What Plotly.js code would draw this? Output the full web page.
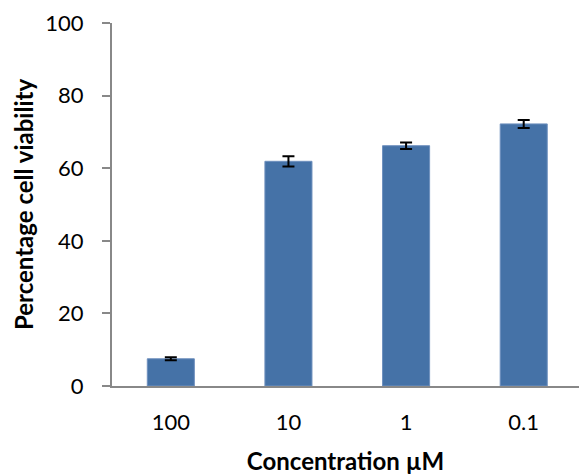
<!DOCTYPE html>
<html>
<head>
<meta charset="utf-8">
<script src="https://cdn.plot.ly/plotly-3.0.1.min.js"></script>
<style>html,body{margin:0;padding:0;background:#fff;}#chart{width:579px;height:475px;}</style>
</head>
<body>
<div id="chart"></div>
<script>
const categories = ["100", "10", "1", "0.1"];
const viability = [7.5, 61.9, 66.2, 72.2];
const errors = [0.4, 1.4, 0.9, 1.1];
const yTicks = [0, 20, 40, 60, 80, 100];

const trace = {
  type: "bar",
  x: categories,
  y: viability,
  width: 0.4,
  marker: {color: "#4572A7", line: {color: "#6F90BE", width: 1}},
  error_y: {type: "data", array: errors, visible: true, color: "#000000", thickness: 2, width: 6}
};

const layout = {
  width: 579,
  height: 475,
  margin: {l: 112, r: 0, t: 23, b: 89},
  paper_bgcolor: "#ffffff",
  plot_bgcolor: "#ffffff",
  showlegend: false,
  font: {family: "Lato, 'Open Sans', sans-serif", size: 22, color: "#000000"},
  xaxis: {
    type: "category",
    range: [-0.5, 3.47],
    showline: true,
    linecolor: "#888888",
    linewidth: 2,
    ticks: "",
    showgrid: false,
    zeroline: false,
    ticklabelstandoff: 16,
    tickfont: {size: 22},
    title: {text: "<b>Concentration µM</b>", font: {size: 24}, standoff: 20}
  },
  yaxis: {
    range: [0, 100],
    tickvals: yTicks,
    showline: true,
    linecolor: "#888888",
    linewidth: 2,
    ticks: "outside",
    ticklen: 8,
    tickwidth: 2,
    tickcolor: "#888888",
    showgrid: false,
    zeroline: false,
    ticklabelstandoff: 14,
    tickfont: {size: 22},
    title: {text: "<b>Percentage cell viability</b>", font: {size: 24}, standoff: 5}
  }
};

Plotly.newPlot("chart", [trace], layout, {displayModeBar: false, staticPlot: true});
</script>
</body>
</html>
